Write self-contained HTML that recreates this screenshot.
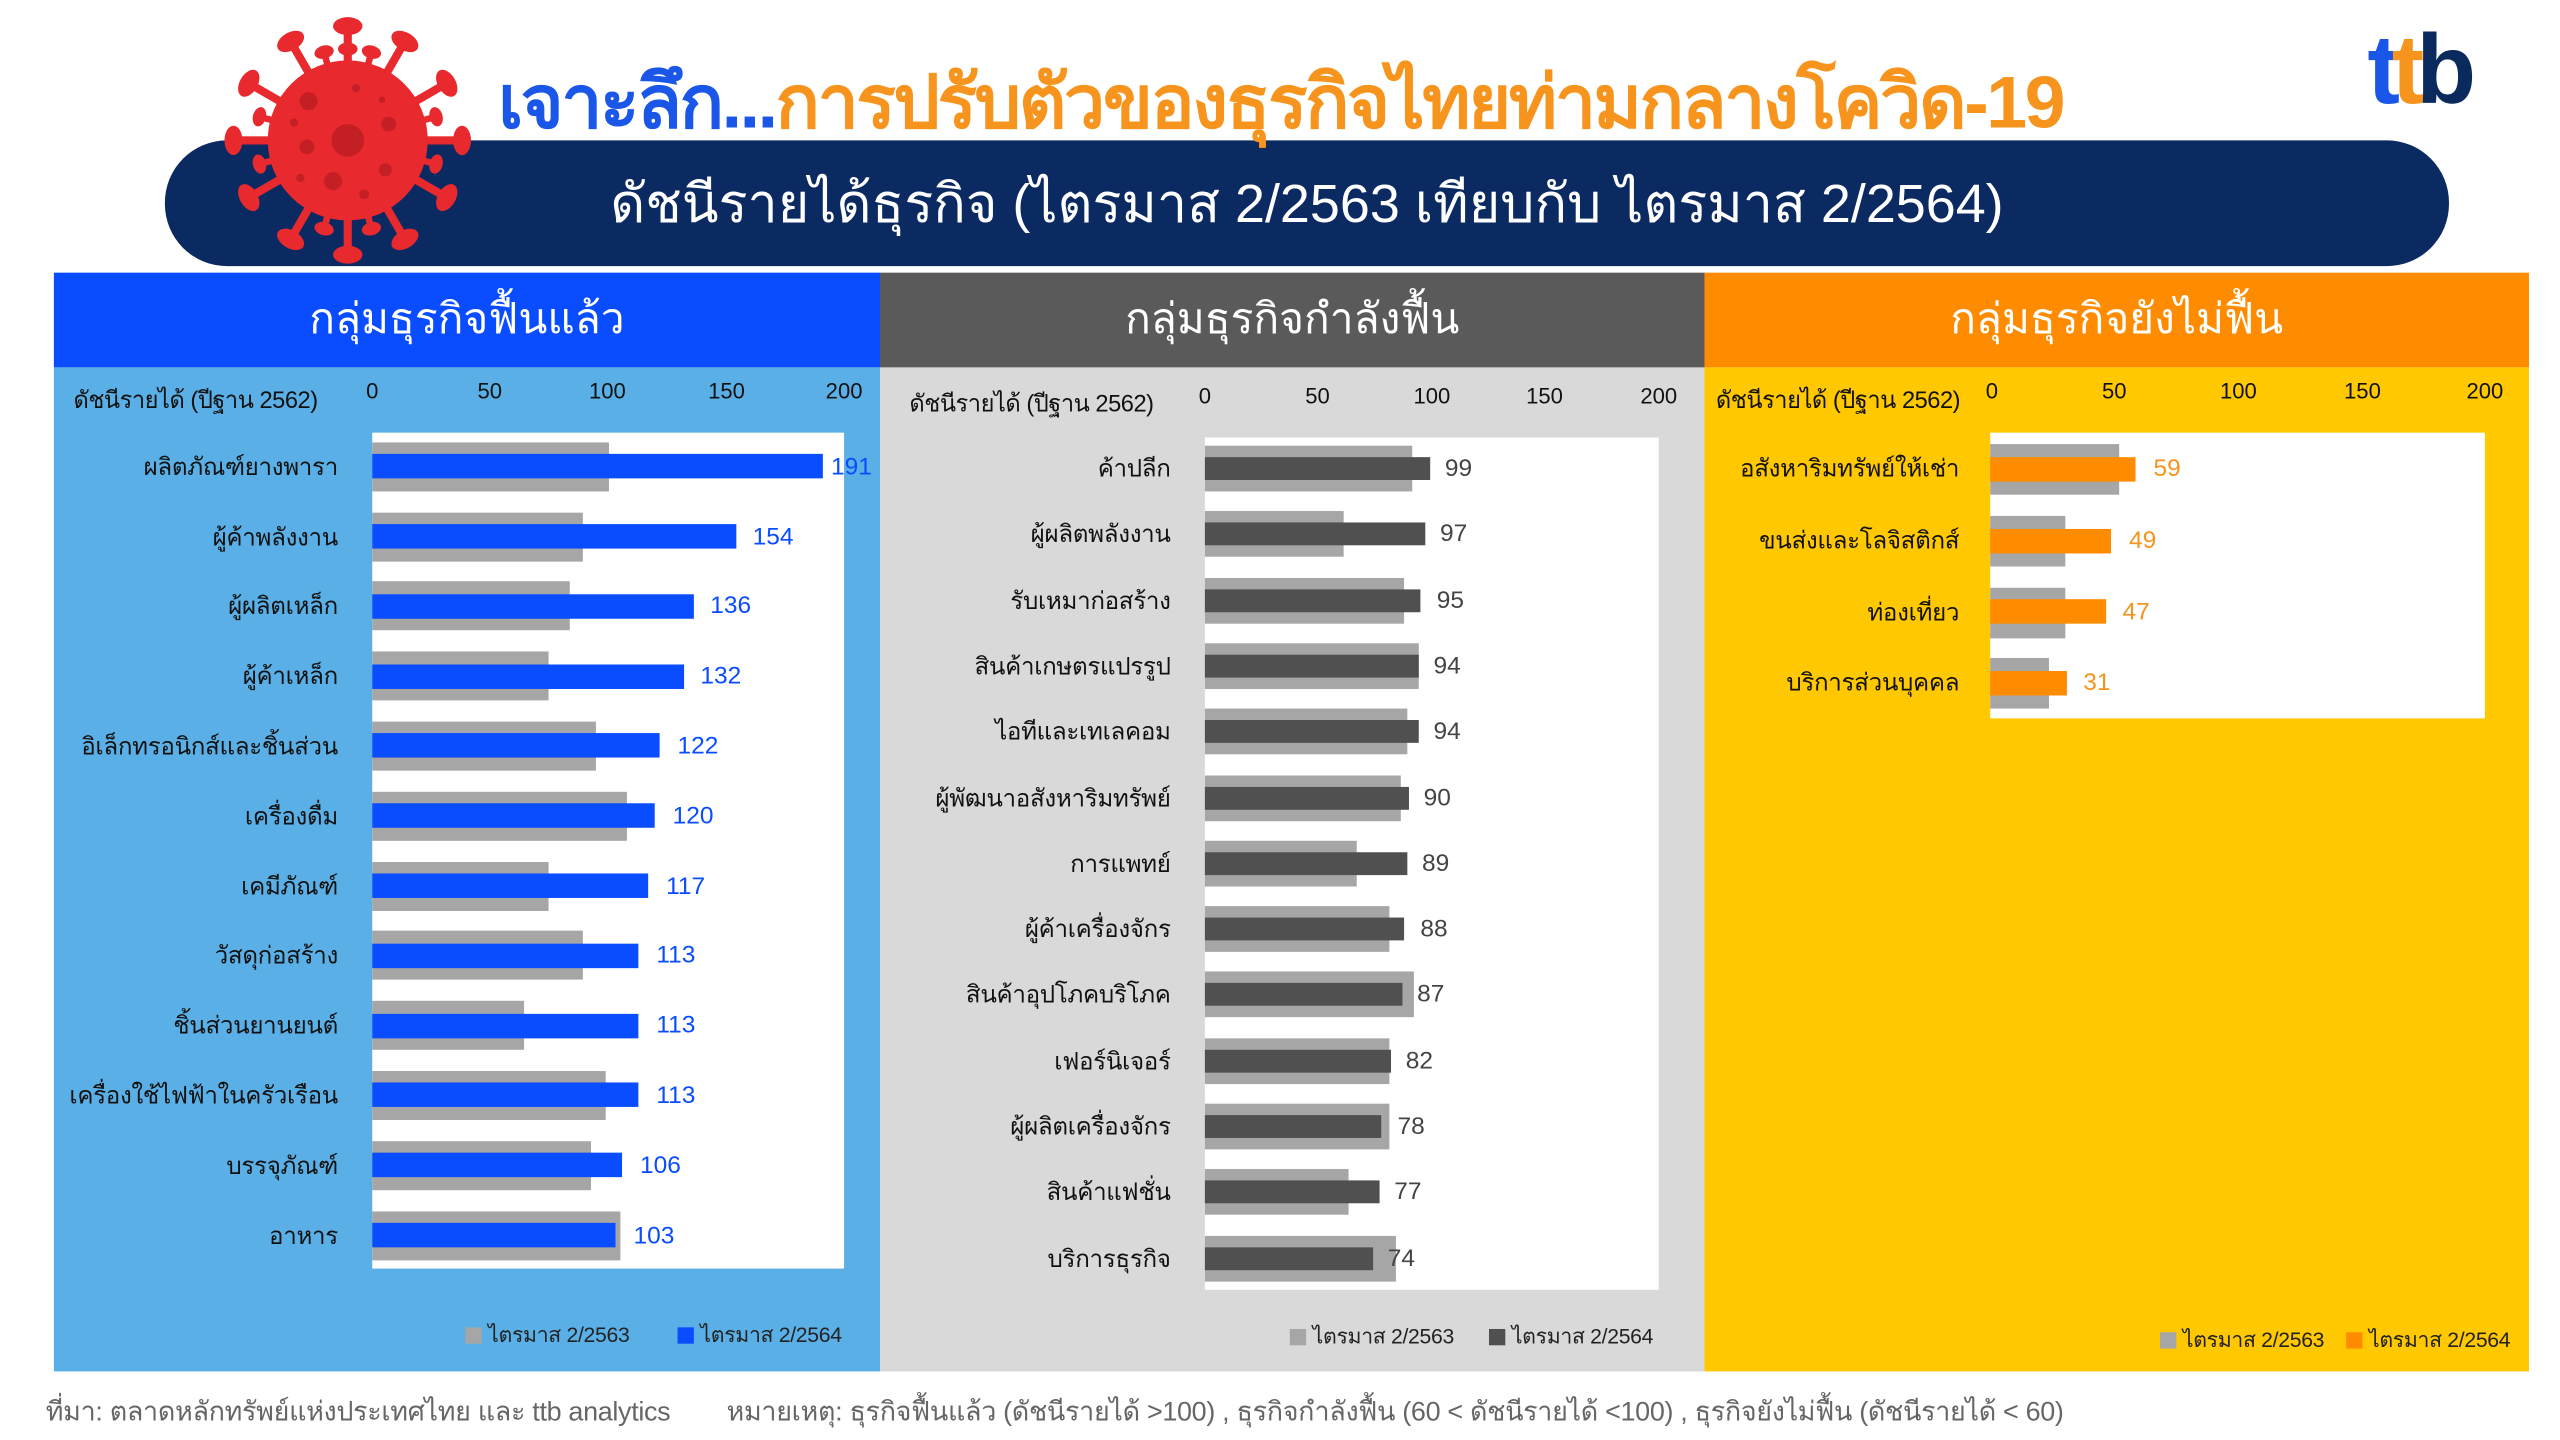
<!DOCTYPE html>
<html><head><meta charset="utf-8">
<style>
html,body{margin:0;padding:0;background:#fff;overflow:hidden}
body{width:2560px;height:1440px}
#c{position:absolute;left:0;top:0;width:1568px;height:882px;transform:scale(1.63265);transform-origin:0 0;font-family:"Liberation Sans","DejaVu Sans",sans-serif;}
.a{position:absolute;white-space:nowrap}
.lab{position:absolute;font-size:14.8px;color:#111;text-align:right;transform:translateY(-50%);white-space:nowrap;letter-spacing:-0.2px}
.g{position:absolute;background:#a6a6a6}
.v{position:absolute;font-size:15px;transform:translateY(-50%)}
.tick{position:absolute;font-size:13.5px;color:#111;transform:translateX(-50%)}
.hd{position:absolute;top:167px;height:58px;color:#fff;font-size:26px;text-align:center;line-height:56px}
.leg{position:absolute;font-size:13px;color:#222;letter-spacing:-0.2px}
.leg i{display:inline-block;width:10px;height:10px;vertical-align:-1px;margin-right:4px}
</style></head><body><div id="c">

<!-- virus -->
<svg class="a" style="left:130px;top:5px" width="170" height="165" viewBox="0 0 170 165">
<g transform="translate(83,81)" fill="#e8292e">
<g id="sp"><rect x="-2.5" y="-72" width="5" height="30"/><ellipse cx="0" cy="-70" rx="9" ry="5.5"/></g>
<use href="#sp" transform="rotate(30)"/><use href="#sp" transform="rotate(60)"/><use href="#sp" transform="rotate(90)"/><use href="#sp" transform="rotate(120)"/><use href="#sp" transform="rotate(150)"/><use href="#sp" transform="rotate(180)"/><use href="#sp" transform="rotate(210)"/><use href="#sp" transform="rotate(240)"/><use href="#sp" transform="rotate(270)"/><use href="#sp" transform="rotate(300)"/><use href="#sp" transform="rotate(330)"/>
<g id="sp2"><rect x="-2" y="-56" width="4" height="14"/><ellipse cx="0" cy="-56" rx="6" ry="4"/></g>
<use href="#sp2" transform="rotate(15)"/><use href="#sp2" transform="rotate(75)"/><use href="#sp2" transform="rotate(105)"/><use href="#sp2" transform="rotate(165)"/><use href="#sp2" transform="rotate(195)"/><use href="#sp2" transform="rotate(255)"/><use href="#sp2" transform="rotate(285)"/><use href="#sp2" transform="rotate(345)"/>
<circle r="49"/>
<g fill="#c41f24"><circle r="10"/><circle cx="-24" cy="-24" r="5.5"/><circle cx="25" cy="-10" r="4.5"/><circle cx="-25" cy="4" r="4.5"/><circle cx="-9" cy="25" r="5.5"/><circle cx="23" cy="18" r="4"/><circle cx="10" cy="33" r="3"/><circle cx="5" cy="-32" r="2.5"/><circle cx="-33" cy="-11" r="2.5"/><circle cx="-29" cy="23" r="2.5"/><circle cx="21" cy="-25" r="2"/></g>
</g></svg>

<!-- title -->
<div class="a" style="left:305px;top:26px;font-size:45px;font-weight:bold;letter-spacing:-1.5px"><span style="color:#1a56e8">เจาะลึก...</span><span style="color:#f7941d">การปรับตัวของธุรกิจไทยท่ามกลางโควิด-19</span></div>

<!-- ttb logo -->
<div class="a" style="left:1450px;top:10px;font-size:60px;font-weight:bold;letter-spacing:-5px;line-height:66px"><span style="color:#1a56e8">t</span><span style="color:#f7941d">t</span><span style="color:#0a2a5e">b</span></div>

<!-- pill -->
<div class="a" style="left:101px;top:86px;width:1399px;height:77px;background:#0b2a61;border-radius:38px;z-index:-1"></div>
<div class="a" style="left:101px;top:86px;width:1399px;height:77px;line-height:77px;text-align:center;color:#fff;font-size:33px">ดัชนีรายได้ธุรกิจ (ไตรมาส 2/2563 เทียบกับ ไตรมาส 2/2564)</div>

<!-- panels -->
<div class="a" style="left:33px;top:225px;width:506px;height:615px;background:#5ab0e6"></div>
<div class="a" style="left:539px;top:225px;width:505px;height:615px;background:#d9d9d9"></div>
<div class="a" style="left:1044px;top:225px;width:505px;height:615px;background:#ffc800"></div>
<div class="hd" style="left:33px;width:506px;background:#0a4cff">กลุ่มธุรกิจฟื้นแล้ว</div>
<div class="hd" style="left:539px;width:505px;background:#5a5a5a">กลุ่มธุรกิจกำลังฟื้น</div>
<div class="hd" style="left:1044px;width:505px;background:#ff8c00">กลุ่มธุรกิจยังไม่ฟื้น</div>

<!-- panel1 axis -->
<div class="a" style="left:45px;top:234px;font-size:14.5px;color:#111;letter-spacing:-0.3px">ดัชนีรายได้ (ปีฐาน 2562)</div>
<div class="tick" style="left:228px;top:232px">0</div><div class="tick" style="left:300px;top:232px">50</div><div class="tick" style="left:372px;top:232px">100</div><div class="tick" style="left:445px;top:232px">150</div><div class="tick" style="left:517px;top:232px">200</div>
<div class="a" style="left:228px;top:265px;width:289px;height:512px;background:#fff"></div>

<!-- panel2 axis -->
<div class="a" style="left:557px;top:236px;font-size:14.5px;color:#111;letter-spacing:-0.3px">ดัชนีรายได้ (ปีฐาน 2562)</div>
<div class="tick" style="left:738px;top:235px">0</div><div class="tick" style="left:807px;top:235px">50</div><div class="tick" style="left:877px;top:235px">100</div><div class="tick" style="left:946px;top:235px">150</div><div class="tick" style="left:1016px;top:235px">200</div>
<div class="a" style="left:738px;top:268px;width:278px;height:522px;background:#fff"></div>

<!-- panel3 axis -->
<div class="a" style="left:1051px;top:234px;font-size:14.5px;color:#111;letter-spacing:-0.3px">ดัชนีรายได้ (ปีฐาน 2562)</div>
<div class="tick" style="left:1220px;top:232px">0</div><div class="tick" style="left:1295px;top:232px">50</div><div class="tick" style="left:1371px;top:232px">100</div><div class="tick" style="left:1447px;top:232px">150</div><div class="tick" style="left:1522px;top:232px">200</div>
<div class="a" style="left:1219px;top:265px;width:303px;height:175px;background:#fff"></div>

<!-- panel1 rows -->
<div class="lab" style="right:1361px;top:285.7px">ผลิตภัณฑ์ยางพารา</div><div class="g" style="left:228px;top:270.7px;width:144.5px;height:30px"></div><div class="g" style="left:228px;top:278.2px;width:276px;height:15px;background:#0a4cff"></div><div class="v" style="left:509px;top:285.7px;color:#0a4cff">191</div>
<div class="lab" style="right:1361px;top:328.5px">ผู้ค้าพลังงาน</div><div class="g" style="left:228px;top:313.5px;width:128.6px;height:30px"></div><div class="g" style="left:228px;top:321px;width:222.5px;height:15px;background:#0a4cff"></div><div class="v" style="left:461px;top:328.5px;color:#0a4cff">154</div>
<div class="lab" style="right:1361px;top:371.3px">ผู้ผลิตเหล็ก</div><div class="g" style="left:228px;top:356.3px;width:121.4px;height:30px"></div><div class="g" style="left:228px;top:363.8px;width:196.5px;height:15px;background:#0a4cff"></div><div class="v" style="left:435px;top:371.3px;color:#0a4cff">136</div>
<div class="lab" style="right:1361px;top:414.1px">ผู้ค้าเหล็ก</div><div class="g" style="left:228px;top:399.1px;width:108.4px;height:30px"></div><div class="g" style="left:228px;top:406.6px;width:190.7px;height:15px;background:#0a4cff"></div><div class="v" style="left:429px;top:414.1px;color:#0a4cff">132</div>
<div class="lab" style="right:1361px;top:456.9px">อิเล็กทรอนิกส์และชิ้นส่วน</div><div class="g" style="left:228px;top:441.9px;width:137.3px;height:30px"></div><div class="g" style="left:228px;top:449.4px;width:176.3px;height:15px;background:#0a4cff"></div><div class="v" style="left:415px;top:456.9px;color:#0a4cff">122</div>
<div class="lab" style="right:1361px;top:499.7px">เครื่องดื่ม</div><div class="g" style="left:228px;top:484.7px;width:156.1px;height:30px"></div><div class="g" style="left:228px;top:492.2px;width:173.4px;height:15px;background:#0a4cff"></div><div class="v" style="left:412px;top:499.7px;color:#0a4cff">120</div>
<div class="lab" style="right:1361px;top:542.5px">เคมีภัณฑ์</div><div class="g" style="left:228px;top:527.5px;width:108.4px;height:30px"></div><div class="g" style="left:228px;top:535px;width:169.1px;height:15px;background:#0a4cff"></div><div class="v" style="left:408px;top:542.5px;color:#0a4cff">117</div>
<div class="lab" style="right:1361px;top:585.3px">วัสดุก่อสร้าง</div><div class="g" style="left:228px;top:570.3px;width:128.6px;height:30px"></div><div class="g" style="left:228px;top:577.8px;width:163.3px;height:15px;background:#0a4cff"></div><div class="v" style="left:402px;top:585.3px;color:#0a4cff">113</div>
<div class="lab" style="right:1361px;top:628.1px">ชิ้นส่วนยานยนต์</div><div class="g" style="left:228px;top:613.1px;width:92.5px;height:30px"></div><div class="g" style="left:228px;top:620.6px;width:163.3px;height:15px;background:#0a4cff"></div><div class="v" style="left:402px;top:628.1px;color:#0a4cff">113</div>
<div class="lab" style="right:1361px;top:670.9px">เครื่องใช้ไฟฟ้าในครัวเรือน</div><div class="g" style="left:228px;top:655.9px;width:143.1px;height:30px"></div><div class="g" style="left:228px;top:663.4px;width:163.3px;height:15px;background:#0a4cff"></div><div class="v" style="left:402px;top:670.9px;color:#0a4cff">113</div>
<div class="lab" style="right:1361px;top:713.7px">บรรจุภัณฑ์</div><div class="g" style="left:228px;top:698.7px;width:134.4px;height:30px"></div><div class="g" style="left:228px;top:706.2px;width:153.2px;height:15px;background:#0a4cff"></div><div class="v" style="left:392px;top:713.7px;color:#0a4cff">106</div>
<div class="lab" style="right:1361px;top:756.5px">อาหาร</div><div class="g" style="left:228px;top:741.5px;width:151.7px;height:30px"></div><div class="g" style="left:228px;top:749px;width:148.8px;height:15px;background:#0a4cff"></div><div class="v" style="left:388px;top:756.5px;color:#0a4cff">103</div>

<!-- panel2 rows -->
<div class="lab" style="right:851px;top:287px">ค้าปลีก</div><div class="g" style="left:738px;top:273px;width:126.5px;height:28px"></div><div class="g" style="left:738px;top:280px;width:137.6px;height:14px;background:#505050"></div><div class="v" style="left:885px;top:287px;color:#444">99</div>
<div class="lab" style="right:851px;top:327.3px">ผู้ผลิตพลังงาน</div><div class="g" style="left:738px;top:313.3px;width:84.8px;height:28px"></div><div class="g" style="left:738px;top:320.3px;width:134.8px;height:14px;background:#505050"></div><div class="v" style="left:882px;top:327.3px;color:#444">97</div>
<div class="lab" style="right:851px;top:367.6px">รับเหมาก่อสร้าง</div><div class="g" style="left:738px;top:353.6px;width:122.3px;height:28px"></div><div class="g" style="left:738px;top:360.6px;width:132.1px;height:14px;background:#505050"></div><div class="v" style="left:880px;top:367.6px;color:#444">95</div>
<div class="lab" style="right:851px;top:407.9px">สินค้าเกษตรแปรรูป</div><div class="g" style="left:738px;top:393.9px;width:130.7px;height:28px"></div><div class="g" style="left:738px;top:400.9px;width:130.7px;height:14px;background:#505050"></div><div class="v" style="left:878px;top:407.9px;color:#444">94</div>
<div class="lab" style="right:851px;top:448.2px">ไอทีและเทเลคอม</div><div class="g" style="left:738px;top:434.2px;width:123.7px;height:28px"></div><div class="g" style="left:738px;top:441.2px;width:130.7px;height:14px;background:#505050"></div><div class="v" style="left:878px;top:448.2px;color:#444">94</div>
<div class="lab" style="right:851px;top:488.5px">ผู้พัฒนาอสังหาริมทรัพย์</div><div class="g" style="left:738px;top:474.5px;width:119.5px;height:28px"></div><div class="g" style="left:738px;top:481.5px;width:125.1px;height:14px;background:#505050"></div><div class="v" style="left:872px;top:488.5px;color:#444">90</div>
<div class="lab" style="right:851px;top:528.8px">การแพทย์</div><div class="g" style="left:738px;top:514.8px;width:93.1px;height:28px"></div><div class="g" style="left:738px;top:521.8px;width:123.7px;height:14px;background:#505050"></div><div class="v" style="left:871px;top:528.8px;color:#444">89</div>
<div class="lab" style="right:851px;top:569.1px">ผู้ค้าเครื่องจักร</div><div class="g" style="left:738px;top:555.1px;width:112.6px;height:28px"></div><div class="g" style="left:738px;top:562.1px;width:122.3px;height:14px;background:#505050"></div><div class="v" style="left:870px;top:569.1px;color:#444">88</div>
<div class="lab" style="right:851px;top:609.4px">สินค้าอุปโภคบริโภค</div><div class="g" style="left:738px;top:595.4px;width:127.9px;height:28px"></div><div class="g" style="left:738px;top:602.4px;width:120.9px;height:14px;background:#505050"></div><div class="v" style="left:868px;top:609.4px;color:#444">87</div>
<div class="lab" style="right:851px;top:649.7px">เฟอร์นิเจอร์</div><div class="g" style="left:738px;top:635.7px;width:112.6px;height:28px"></div><div class="g" style="left:738px;top:642.7px;width:114px;height:14px;background:#505050"></div><div class="v" style="left:861px;top:649.7px;color:#444">82</div>
<div class="lab" style="right:851px;top:690px">ผู้ผลิตเครื่องจักร</div><div class="g" style="left:738px;top:676px;width:112.6px;height:28px"></div><div class="g" style="left:738px;top:683px;width:108.4px;height:14px;background:#505050"></div><div class="v" style="left:856px;top:690px;color:#444">78</div>
<div class="lab" style="right:851px;top:730.3px">สินค้าแฟชั่น</div><div class="g" style="left:738px;top:716.3px;width:87.6px;height:28px"></div><div class="g" style="left:738px;top:723.3px;width:107px;height:14px;background:#505050"></div><div class="v" style="left:854px;top:730.3px;color:#444">77</div>
<div class="lab" style="right:851px;top:770.6px">บริการธุรกิจ</div><div class="g" style="left:738px;top:756.6px;width:116.8px;height:28px"></div><div class="g" style="left:738px;top:763.6px;width:102.9px;height:14px;background:#505050"></div><div class="v" style="left:850px;top:770.6px;color:#444">74</div>

<!-- panel3 rows -->
<div class="lab" style="right:368px;top:287px">อสังหาริมทรัพย์ให้เช่า</div><div class="g" style="left:1219px;top:272px;width:78.8px;height:31px"></div><div class="g" style="left:1219px;top:279.5px;width:89.4px;height:15px;background:#ff8c00"></div><div class="v" style="left:1319px;top:287px;color:#f7941d">59</div>
<div class="lab" style="right:368px;top:331px">ขนส่งและโลจิสติกส์</div><div class="g" style="left:1219px;top:316px;width:45.5px;height:31px"></div><div class="g" style="left:1219px;top:323.5px;width:74.2px;height:15px;background:#ff8c00"></div><div class="v" style="left:1304px;top:331px;color:#f7941d">49</div>
<div class="lab" style="right:368px;top:374.5px">ท่องเที่ยว</div><div class="g" style="left:1219px;top:359.5px;width:45.5px;height:31px"></div><div class="g" style="left:1219px;top:367px;width:71.2px;height:15px;background:#ff8c00"></div><div class="v" style="left:1300px;top:374.5px;color:#f7941d">47</div>
<div class="lab" style="right:368px;top:418px">บริการส่วนบุคคล</div><div class="g" style="left:1219px;top:403px;width:36.4px;height:31px"></div><div class="g" style="left:1219px;top:410.5px;width:47px;height:15px;background:#ff8c00"></div><div class="v" style="left:1276px;top:418px;color:#f7941d">31</div>

<!-- legends -->
<div class="leg" style="left:285px;top:807px"><i style="background:#a6a6a6"></i>ไตรมาส 2/2563</div>
<div class="leg" style="left:415px;top:807px"><i style="background:#0a4cff"></i>ไตรมาส 2/2564</div>
<div class="leg" style="left:790px;top:808px"><i style="background:#a6a6a6"></i>ไตรมาส 2/2563</div>
<div class="leg" style="left:912px;top:808px"><i style="background:#505050"></i>ไตรมาส 2/2564</div>
<div class="leg" style="left:1323px;top:810px"><i style="background:#a6a6a6"></i>ไตรมาส 2/2563</div>
<div class="leg" style="left:1437px;top:810px"><i style="background:#ff8c00"></i>ไตรมาส 2/2564</div>

<!-- footer -->
<div class="a" style="left:28px;top:852px;font-size:16.5px;color:#666;letter-spacing:-0.2px">ที่มา: ตลาดหลักทรัพย์แห่งประเทศไทย และ ttb analytics</div>
<div class="a" style="left:445px;top:852px;font-size:16.5px;color:#666;letter-spacing:-0.2px">หมายเหตุ: ธุรกิจฟื้นแล้ว (ดัชนีรายได้ &gt;100) , ธุรกิจกำลังฟื้น (60 &lt; ดัชนีรายได้ &lt;100) , ธุรกิจยังไม่ฟื้น (ดัชนีรายได้ &lt; 60)</div>

</div></body></html>
